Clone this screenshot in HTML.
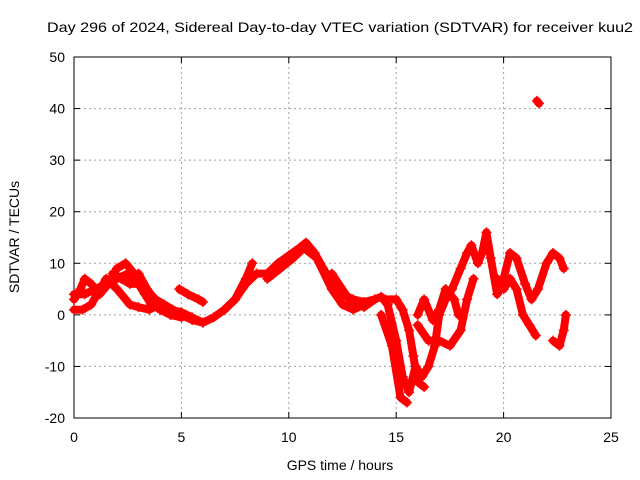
<!DOCTYPE html>
<html><head><meta charset="utf-8"><style>
html,body{margin:0;padding:0;background:#fff;}
svg{display:block;font-family:"Liberation Sans",sans-serif;}
</style></head><body>
<svg id="chart" width="640" height="480">
<text x="340" y="32" text-anchor="middle" font-size="14" textLength="586" lengthAdjust="spacingAndGlyphs">Day 296 of 2024, Sidereal Day-to-day VTEC variation (SDTVAR) for receiver kuu2</text>
<text transform="translate(19,237) rotate(-90)" text-anchor="middle" font-size="14">SDTVAR / TECUs</text>
<text x="340" y="470" text-anchor="middle" font-size="14">GPS time / hours</text>
<g id="grid"></g>
<g id="axes"></g>
<g id="series"></g>
</svg>
<script>
const xTicks=[0,5,10,15,20,25];
const yTicks=[-20,-10,0,10,20,30,40,50];
const trace1=[[0,3],[0.3,5],[0.5,7],[0.8,6],[1.2,4],[1.6,6],[2,9],[2.4,10],[2.8,8],[3.3,5],[3.8,3],[4.2,2],[4.6,1],[5,0],[5.5,-1],[6,-1.5],[6.5,-0.5],[7,1],[7.5,3],[8,6],[8.5,8],[9,8],[9.5,10],[10,11.5],[10.5,13],[10.8,14],[11.2,12],[11.6,9],[12,6],[12.5,4],[13,3],[13.5,2.5],[14,3],[14.3,3.5],[14.6,2],[15,-5],[15.3,-12],[15.6,-15],[15.9,-10],[16.2,-12],[16.5,-10],[16.8,-6],[17,0],[17.3,3],[17.6,5],[18,9],[18.3,12],[18.5,13.5],[18.8,10],[19,12],[19.2,16],[19.4,11],[19.7,4],[20,7],[20.3,12],[20.6,11],[21,6],[21.3,3],[21.6,5],[22,10],[22.3,12],[22.6,11],[22.8,9]];
const trace2=[[0,1],[0.4,1],[0.8,2],[1.5,7],[2,5],[2.6,2],[3,1.5],[3.5,1],[4,2],[4.5,1],[5,0.5],[5.5,-0.5],[6,-1.5]];
const trace3=[[2.5,7],[3,8],[3.4,5],[4,1.5],[4.5,0],[5,-0.5]];
const trace4=[[4.9,5],[5.3,4],[5.8,3],[6,2.5]];
const trace5=[[7,1],[7.5,3],[8,7],[8.3,10]];
const trace6=[[12,8],[12.8,3],[13.5,1.5],[14,3]];
const trace7=[[14.5,3],[15,3],[15.3,1],[15.6,-3],[15.8,-8],[16,-13],[16.3,-14]];
const trace8=[[14.3,0],[14.8,-6],[15.2,-16],[15.5,-17]];
const trace9=[[16,-2],[16.5,-5],[17,-5],[17.5,-6],[18,-3],[18.3,3],[18.6,7]];
const trace10=[[16,0],[16.3,3],[16.7,-1],[17,1],[17.3,5],[17.7,3],[17.9,0]];
const trace11=[[19.7,7],[20,5],[20.3,7],[20.6,5],[20.9,0],[21.2,-2],[21.5,-4]];
const trace12=[[22.3,-5],[22.6,-6],[22.8,-3],[22.9,0]];
const trace13=[[21.55,41.5],[21.65,41]];
const trace14=[[0,4],[0.5,4],[1,5],[1.5,6],[2,7],[2.5,8],[3,6],[3.5,3],[4,1],[4.5,0]];
const trace15=[[9,7],[9.6,9],[10.2,11],[10.7,13],[11.3,11],[12,5],[12.5,2],[13,1],[13.5,2]];
const trace16=[[1.8,8],[2.2,7],[2.6,6],[3,6],[3.3,4],[3.6,2]];
const traces=[trace1,trace2,trace3,trace4,trace5,trace6,trace7,trace8,trace9,trace10,trace11,trace12,trace13,trace14,trace15,trace16];

const X0=74,X1=611,Y0=418,Y1=57;
const sx=v=>X0+(v-0)/(25-0)*(X1-X0);
const sy=v=>Y0-(v+20)/(70)*(Y0-Y1);
const NS='http://www.w3.org/2000/svg';
function mk(tag,attrs,parent){const e=document.createElementNS(NS,tag);for(const k in attrs)e.setAttribute(k,attrs[k]);parent.appendChild(e);return e;}
const grid=document.getElementById('grid'),axes=document.getElementById('axes'),series=document.getElementById('series');
xTicks.forEach(t=>{
  const x=sx(t);
  if(t>0&&t<25){const g=mk('line',{x1:x,x2:x,y1:Y1,y2:Y0,stroke:'#a0a0a0','stroke-dasharray':'2,3'},grid);
  
  }
  mk('line',{x1:x,x2:x,y1:Y0,y2:Y0-6,stroke:'#000'},axes);
  mk('line',{x1:x,x2:x,y1:Y1,y2:Y1+6,stroke:'#000'},axes);
  const l=mk('text',{x:x,y:Y0+24,'text-anchor':'middle','font-size':'14'},axes);l.textContent=t;
  
  
});
yTicks.forEach(t=>{
  const y=sy(t);
  if(t>-20&&t<50){const g=mk('line',{x1:X0,x2:X1,y1:y,y2:y,stroke:'#a0a0a0','stroke-dasharray':'2,3'},grid);
  
  }
  mk('line',{x1:X0,x2:X0+6,y1:y,y2:y,stroke:'#000'},axes);
  mk('line',{x1:X1,x2:X1-6,y1:y,y2:y,stroke:'#000'},axes);
  const l=mk('text',{x:X0-9,y:y+5,'text-anchor':'end','font-size':'14'},axes);l.textContent=t;
  
  
});
const fr=mk('rect',{x:X0,y:Y1,width:X1-X0,height:Y0-Y1,fill:'none',stroke:'#000'},axes);


traces.forEach((tr,i)=>{
  const pl=mk('polyline',{points:tr.map(p=>sx(p[0])+','+sy(p[1])).join(' '),fill:'none',stroke:'#f00','stroke-width':'8','stroke-linejoin':'round','stroke-linecap':'round'},series);
  
  
  tr.forEach(p=>{
    const x=sx(p[0]),y=sy(p[1]);
    const m=mk('path',{d:`M${x-5},${y}H${x+5}M${x},${y-5}V${y+5}`,stroke:'#f00','stroke-width':'1.5'},series);
    
    
  });
});
</script>
</body></html>
